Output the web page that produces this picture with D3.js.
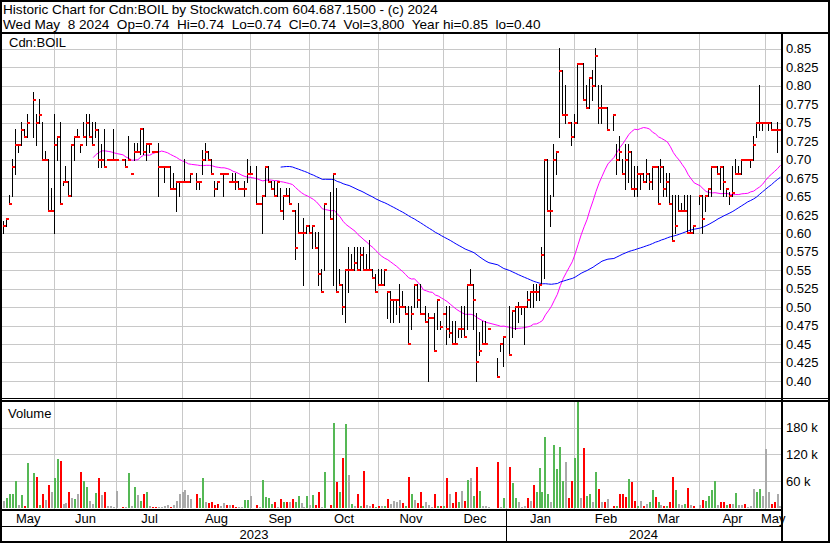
<!DOCTYPE html>
<html><head><meta charset="utf-8">
<script src="https://cdn.jsdelivr.net/npm/d3@7"></script>
<style>
body{margin:0;background:#fff}
svg{display:block}
text{font-family:"Liberation Sans",Arial,sans-serif;fill:#000}
</style>
</head><body>
<svg id="chart" width="830" height="543"></svg>
<script>
// ---------------- data (one slot per weekday, 9 May 2023 .. 8 May 2024) ----------------
const startDate = "2023-05-09";
const endDate = "2024-05-08";
const hi = [
.615,.62,.65,.70,.74,.72,.75,.74,.76,null,
.79,.76,.78,.75,.71,.70,.66,.76,.73,.75,
.67,.69,.67,.72,.73,.74,.72,.75,.76,.76,
.75,.75,.74,.72,.74,.70,.70,.74,.70,null,
.70,.70,.73,.68,.721,.721,.741,.741,.721,.721,
.71,.71,.721,.69,.69,.69,.69,.68,.67,.67,
.67,.70,.67,.68,null,.68,.67,.711,.721,.71,
.70,.67,.67,.68,.68,.68,.67,.68,.68,.67,
.66,.67,.70,.69,null,.69,.64,.65,.69,.69,
.67,.67,.67,.66,.65,.66,.66,.63,.63,.64,
.60,.62,.61,.61,.61,.60,.60,.55,.64,null,
.655,.68,.66,.55,.53,.55,.58,.57,.58,.58,
.58,.58,.57,.59,.55,.543,.55,.55,.55,.52,
.52,.51,.51,.53,.52,.50,.50,.50,.53,.53,
.53,.49,.50,.49,.485,.49,.51,.48,.49,.50,
.50,.48,.48,.47,.50,.50,.53,.55,.53,.49,
.465,.48,.48,.47,null,null,.43,.45,.46,null,
.50,.495,.50,.505,.50,.50,.52,.52,.53,.53,
.53,.58,.70,.70,.65,.72,.71,.85,.82,.80,
.75,.75,.76,.83,.83,.83,.80,.81,.82,.85,
.80,.80,.77,.77,null,.76,.72,.73,.70,.72,
.72,.71,.69,.69,.68,.68,.70,.68,.69,.69,
.69,.70,.69,.68,.68,.65,.65,.65,.64,.65,
.65,.65,.61,null,.65,.65,.65,.66,.69,.69,
.69,.69,.69,.66,.655,.69,.70,.69,.70,.70,
.70,.70,.73,.75,.80,.75,.75,.75,.75,.74,.75,.74];
const lo = [
.60,.61,.64,.65,.68,.71,.72,.73,.73,null,
.73,.72,.75,.70,.70,.63,.63,.60,.70,.64,
.665,.67,.65,.65,.70,.73,.71,.73,.72,.73,
.72,.73,.69,.69,.69,.70,.70,.70,.70,null,
.70,.69,.70,.68,.70,.71,.708,.708,.70,.71,
.71,.71,.65,.69,.67,.69,.66,.66,.63,.65,
.67,.67,.67,.67,null,.66,.66,.68,.70,.70,
.68,.65,.66,.68,.65,.68,.67,.67,.66,.66,
.66,.65,.67,.68,null,.64,.64,.60,.65,.67,
.66,.65,.65,.63,.62,.65,.64,.63,.565,.60,
.60,.53,.60,.60,.58,.58,.53,.52,.55,null,
.62,.53,.52,.53,.49,.48,.52,.55,.55,.55,
.55,.55,.55,.55,.54,.52,.53,.53,.53,.485,
.48,.48,.49,.48,.50,.49,.45,.47,.50,.50,
.49,.49,.48,.40,.485,.44,.47,.47,.49,.45,
.46,.45,.45,.46,.46,.46,.47,.53,.47,.40,
.435,.45,.45,.47,null,null,.405,.44,.42,null,
.435,.46,.47,.48,.49,.45,.50,.50,.50,.51,
.51,.53,.54,.63,.61,.65,.68,.73,.76,.75,
.75,.72,.73,.75,.83,.78,.77,.77,.78,.80,
.75,.75,.77,.74,null,.74,.68,.70,.68,.66,
.67,.66,.65,.65,.66,.67,.67,.66,.66,.69,
.64,.67,.65,.65,.64,.59,.60,.63,.63,.63,
.60,.60,.60,null,.64,.60,.63,.65,.65,.69,
.68,.66,.65,.65,.64,.65,.68,.68,.68,.70,
.70,.69,.70,.73,.74,.74,.75,.74,.74,.74,.71,.74];
const cl = [
.61,.62,.64,.69,.72,.72,.74,.73,.75,null,
.78,.75,.76,.70,.70,.63,.63,.72,.73,.64,
.67,.67,.65,.72,.73,.73,.72,.73,.75,.73,
.72,.74,.70,.70,.69,.70,.70,.70,.70,null,
.70,.69,.70,.68,.71,.71,.741,.71,.721,.721,
.71,.71,.69,.69,.69,.69,.66,.66,.67,.67,
.67,.67,.67,.68,null,.67,.67,.70,.71,.70,
.68,.66,.67,.68,.68,.68,.67,.67,.67,.66,
.66,.66,.68,.68,null,.64,.64,.65,.69,.67,
.66,.65,.67,.63,.65,.65,.64,.63,.58,.60,
.60,.60,.61,.60,.61,.58,.545,.52,.64,null,
.62,.68,.52,.53,.50,.55,.55,.55,.56,.55,
.57,.55,.55,.55,.54,.52,.53,.53,.55,.52,
.51,.51,.51,.50,.50,.49,.45,.49,.53,.51,
.49,.49,.48,.485,.485,.44,.51,.473,.49,.47,
.465,.45,.45,.47,.47,.46,.53,.53,.51,.425,
.44,.45,.45,.47,null,null,.405,.45,.46,null,
.435,.495,.50,.50,.50,.50,.51,.52,.52,.52,
.53,.57,.70,.63,.63,.70,.71,.82,.76,.76,
.75,.73,.75,.83,.83,.78,.77,.81,.80,.84,
.77,.77,.77,.74,null,.76,.70,.71,.68,.70,
.71,.66,.66,.68,.68,.67,.68,.67,.69,.69,
.64,.69,.66,.67,.64,.59,.61,.63,.63,.63,
.60,.60,.61,null,.65,.62,.65,.66,.69,.69,
.68,.69,.67,.66,.65,.655,.68,.68,.70,.70,
.70,.70,.72,.75,.75,.75,.75,.75,.74,.74,.74,.74];
// volume in thousands of shares
const volK = [
15,22,31,31,60,5,28,3,100,0,
78,69,5,31,17,51,36,67,109,105,
9,10,35,22,19,31,80,60,47,16,
9,34,67,29,36,4,4,1,37,0,
2,2,78,3,46,28,15,31,35,4,
1,1,2,1,4,7,1,7,15,31,
36,40,29,19,0,31,22,67,12,10,
12,6,9,3,10,5,6,6,1,2,
2,18,18,27,0,6,1,62,25,22,
9,12,1,19,12,13,12,19,13,27,
10,2,26,6,28,7,36,2,81,0,
7,191,57,36,112,189,73,9,4,31,
3,83,7,3,9,2,3,3,3,19,
8,15,12,17,11,4,69,31,18,10,
35,3,12,6,2,31,4,4,4,67,
31,11,35,13,37,16,62,67,27,92,
37,4,3,2,0,0,103,2,22,0,
92,56,22,12,2,3,22,16,52,36,
90,36,158,30,12,141,87,137,60,103,
22,60,112,237,22,135,27,30,12,80,
43,12,13,19,0,4,4,31,31,25,
64,57,15,4,15,4,9,12,39,25,
12,7,4,4,12,69,40,9,6,9,
45,7,4,0,6,18,15,27,39,60,
6,12,12,6,9,9,33,7,6,9,
1,4,43,36,43,27,131,36,8,12,31,4];
// 1 = up (green), -1 = down (red), 0 = unchanged (grey)
const volDir = [
0,1,1,1,1,0,1,-1,1,0,
1,-1,1,-1,0,-1,0,1,1,-1,
0,0,-1,0,1,0,-1,1,1,0,
0,1,-1,0,-1,0,0,0,0,0,
-1,0,1,0,1,0,1,-1,1,0,
-1,-1,0,0,0,0,-1,0,0,0,
0,0,0,0,0,-1,1,1,0,-1,
-1,-1,-1,0,0,-1,0,-1,-1,0,
0,1,1,0,0,-1,0,1,1,1,
1,-1,0,-1,1,-1,0,-1,1,1,
0,0,1,0,1,-1,-1,0,1,0,
-1,1,-1,1,-1,1,0,1,0,-1,
1,-1,0,0,-1,1,-1,0,1,-1,
0,0,0,0,-1,1,-1,1,0,-1,
-1,1,0,0,0,-1,1,-1,1,-1,
0,-1,-1,1,0,-1,1,0,1,-1,
1,0,0,0,0,0,-1,0,1,0,
-1,1,1,0,0,0,-1,0,-1,1,
1,1,1,1,0,1,1,1,1,0,
-1,-1,1,1,0,-1,1,1,0,1,
-1,0,-1,0,0,-1,1,-1,-1,-1,
1,-1,-1,1,0,-1,0,1,1,-1,
1,0,-1,1,-1,-1,1,0,0,1,
-1,0,-1,0,0,-1,1,1,1,1,
0,-1,-1,1,-1,0,1,0,0,-1,
0,0,0,1,1,0,0,0,-1,-1,0,0];
const priceTicks = [0.40,0.425,0.45,0.475,0.50,0.525,0.55,0.575,0.60,0.625,0.65,0.675,0.70,0.725,0.75,0.775,0.80,0.825,0.85];
const volTicks = [60,120,180];
const monthNames = ["Jan","Feb","Mar","Apr","May","Jun","Jul","Aug","Sep","Oct","Nov","Dec"];
const maShort = 30, maLong = 90;
const headerLine1 = "Historic Chart for Cdn:BOIL by Stockwatch.com 604.687.1500 - (c) 2024";
const headerLine2 = "Wed May  8 2024  Op=0.74  Hi=0.74  Lo=0.74  Cl=0.74  Vol=3,800  Year hi=0.85  lo=0.40";

// ---------------- weekday calendar ----------------
const dates = [];
for (let d = new Date(startDate + "T12:00:00"); d <= new Date(endDate + "T12:00:00"); d.setDate(d.getDate() + 1)) {
  const wd = d.getDay();
  if (wd !== 0 && wd !== 6) dates.push(new Date(d));
}
const N = dates.length;

// ---------------- geometry ----------------
const L = 2, R = 781;
const svg = d3.select("#chart");
const x = d3.scaleLinear().domain([0, N - 1]).range([3, 3 + 2.975 * (N - 1)]);
const yP = d3.scaleLinear().domain([0.40, 0.85]).range([380.9, 48.8]);
const yV = d3.scaleLinear().domain([0, 240]).range([507.7, 400.9]);
const pTop = 34, pBot = 398, vTop = 402, vBot = 509;

// month boundaries: last weekday slot on/before first day of month
const monthStarts = [];
{
  let m = new Date(2023, 5, 1, 12);
  while (m <= dates[N - 1]) {
    let idx = -1;
    for (let i = 0; i < N; i++) if (dates[i] <= m) idx = i;
    monthStarts.push({date: new Date(m), idx});
    m = new Date(m.getFullYear(), m.getMonth() + 1, 1, 12);
  }
}
const gx = i => Math.round(x(i)) + 0.5;

// ---------------- grid ----------------
const grid = svg.append("g").attr("stroke", "#c8c8c8").attr("stroke-width", 1).attr("shape-rendering", "crispEdges");
grid.selectAll(".hp").data(priceTicks).join("line")
  .attr("x1", L).attr("x2", R).attr("y1", d => Math.round(yP(d)) + 0.5).attr("y2", d => Math.round(yP(d)) + 0.5);
grid.selectAll(".hv").data(volTicks).join("line")
  .attr("x1", L).attr("x2", R).attr("y1", d => Math.round(yV(d)) + 0.5).attr("y2", d => Math.round(yV(d)) + 0.5);
grid.selectAll(".vp").data(monthStarts).join("line")
  .attr("x1", d => gx(d.idx)).attr("x2", d => gx(d.idx)).attr("y1", pTop).attr("y2", pBot);
grid.selectAll(".vv").data(monthStarts).join("line")
  .attr("x1", d => gx(d.idx)).attr("x2", d => gx(d.idx)).attr("y1", vTop).attr("y2", vBot);

// ---------------- moving averages ----------------
function movingAvg(n) {
  const out = [];
  const hist = [];
  for (let i = 0; i < N; i++) {
    if (cl[i] == null) continue;
    hist.push(cl[i]);
    if (hist.length >= n) out.push({i, v: d3.mean(hist.slice(-n))});
  }
  return out;
}
const line = d3.line().x(d => x(d.i) + 1).y(d => yP(d.v));
svg.append("path").datum(movingAvg(maShort)).attr("d", line)
  .attr("fill", "none").attr("stroke", "#ff00ff").attr("stroke-width", 1);
svg.append("path").datum(movingAvg(maLong)).attr("d", line)
  .attr("fill", "none").attr("stroke", "#0000ff").attr("stroke-width", 1);

// ---------------- price bars ----------------
const idx = d3.range(N).filter(i => cl[i] != null);
const bars = svg.append("g").attr("shape-rendering", "crispEdges");
bars.selectAll(".hl").data(idx).join("rect")
  .attr("x", i => Math.round(x(i))).attr("width", 1)
  .attr("y", i => Math.round(yP(hi[i])) - 1)
  .attr("height", i => Math.max(2, Math.round(yP(lo[i])) - Math.round(yP(hi[i])) + 2))
  .attr("fill", "#000");
bars.selectAll(".cl").data(idx).join("rect")
  .attr("x", i => Math.round(x(i))).attr("width", 3)
  .attr("y", i => Math.round(yP(cl[i])) - 1).attr("height", 2)
  .attr("fill", "#ff0000");

// ---------------- volume bars ----------------
const volColor = d => d > 0 ? "#55b855" : d < 0 ? "#ff0000" : "#aaaaaa";
svg.append("g").attr("shape-rendering", "crispEdges")
  .selectAll("rect").data(d3.range(N).filter(i => volK[i] > 0)).join("rect")
  .attr("x", i => Math.round(x(i))).attr("width", 2)
  .attr("y", i => Math.max(vTop, yV(volK[i])))
  .attr("height", i => yV(0) - Math.max(vTop, yV(volK[i])))
  .attr("fill", i => volColor(volDir[i]));

// ---------------- frames ----------------
const fr = svg.append("g").attr("shape-rendering", "crispEdges");
const hline = (y, x1, x2, w = 2) => fr.append("rect").attr("x", x1).attr("y", y).attr("width", x2 - x1).attr("height", w).attr("fill", "#000");
const vline = (xx, y1, y2, w = 2) => fr.append("rect").attr("x", xx).attr("y", y1).attr("width", w).attr("height", y2 - y1).attr("fill", "#000");
hline(0, 0, 830);            // top
hline(32, 0, 830);           // under header
hline(398, 0, 830, 1);       // double separator
hline(400, 0, 830, 2);
hline(509, 0, 781);          // above month row
hline(526, 0, 781, 1);       // between month/year rows
hline(541, 0, 830);          // bottom
vline(0, 0, 543);            // left
vline(828, 0, 543);          // right
vline(781, 32, 543);         // axis column
// year divider
const jan = monthStarts.find(d => d.date.getMonth() === 0);
vline(Math.round(x(jan.idx)), 511, 541, 1);

// ---------------- axes ----------------
const fmtP = d => (Math.round(d * 1000) % 10 === 0) ? d.toFixed(2) : d.toFixed(3);
const ax = svg.append("g").attr("transform", `translate(${R},0)`)
  .call(d3.axisRight(yP).tickValues(priceTicks).tickFormat(fmtP).tickSize(0).tickPadding(5));
ax.select(".domain").remove();
ax.selectAll("text").attr("font-size", 13).attr("font-family", "Liberation Sans, Arial, sans-serif").attr("fill", "#000");
const axv = svg.append("g").attr("transform", `translate(${R},0)`)
  .call(d3.axisRight(yV).tickValues(volTicks).tickFormat(d => d + " k").tickSize(0).tickPadding(5));
axv.select(".domain").remove();
axv.selectAll("text").attr("font-size", 13).attr("font-family", "Liberation Sans, Arial, sans-serif").attr("fill", "#000");

// month labels
const bounds = [L, ...monthStarts.map(d => gx(d.idx)), R];
const labelMonths = [dates[0].getMonth(), ...monthStarts.map(d => d.date.getMonth())];
svg.append("g").selectAll("text").data(labelMonths).join("text")
  .attr("x", (d, i) => (bounds[i] + bounds[i + 1]) / 2)
  .attr("y", 523).attr("text-anchor", "middle").attr("font-size", 13)
  .text(d => monthNames[d]);
// year labels
const janX = Math.round(x(jan.idx));
const yearsData = [{t: String(dates[0].getFullYear()), a: L, b: janX}, {t: String(dates[N - 1].getFullYear()), a: janX, b: R}];
svg.append("g").selectAll("text").data(yearsData).join("text")
  .attr("x", d => (d.a + d.b) / 2).attr("y", 539).attr("text-anchor", "middle").attr("font-size", 13)
  .text(d => d.t);

// header + panel labels
svg.append("text").attr("x", 3).attr("y", 14).attr("font-size", 13.6).attr("xml:space", "preserve").style("white-space", "pre").text(headerLine1);
svg.append("text").attr("x", 3).attr("y", 29).attr("font-size", 13.6).attr("xml:space", "preserve").style("white-space", "pre").text(headerLine2);
svg.append("text").attr("x", 9).attr("y", 47).attr("font-size", 13).text("Cdn:BOIL");
svg.append("text").attr("x", 8).attr("y", 418).attr("font-size", 13).text("Volume");
</script>
</body></html>
